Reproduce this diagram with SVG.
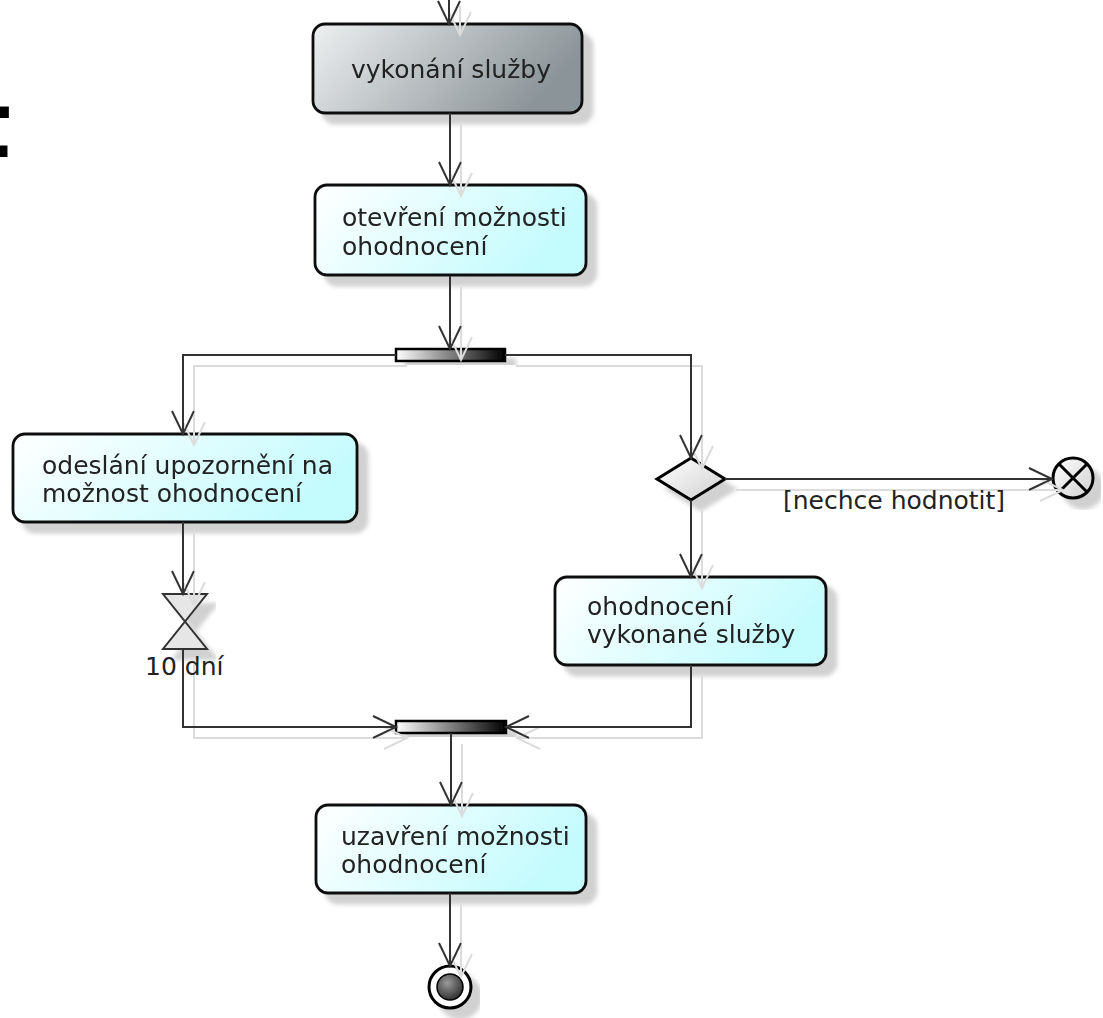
<svg xmlns="http://www.w3.org/2000/svg" width="1103" height="1018" viewBox="0 0 1103 1018">
<style>
.node rect.act{stroke:#111;stroke-width:2.8}
.txt{font-family:"DejaVu Sans","Liberation Sans",sans-serif;font-size:25px;fill:#222}
.conn path{fill:none;stroke:#333;stroke-width:2}
</style>
<defs>
<linearGradient id="gCyan" x1="0" y1="0" x2="1" y2="0.3">
<stop offset="0" stop-color="#ffffff"/><stop offset="1" stop-color="#c4fbfd"/>
</linearGradient>
<linearGradient id="gGray" x1="0" y1="0" x2="1" y2="0.3">
<stop offset="0" stop-color="#eef0f1"/><stop offset="1" stop-color="#8b9498"/>
</linearGradient>
<linearGradient id="gBar" x1="0" y1="0" x2="1" y2="0">
<stop offset="0" stop-color="#ffffff"/><stop offset="1" stop-color="#000000"/>
</linearGradient>
<linearGradient id="gLight" x1="0" y1="0" x2="1" y2="1">
<stop offset="0" stop-color="#ffffff"/><stop offset="1" stop-color="#d0d0d0"/>
</linearGradient>
<radialGradient id="gDark" cx="0.4" cy="0.35" r="0.7">
<stop offset="0" stop-color="#9a9a9a"/><stop offset="1" stop-color="#2a2a2a"/>
</radialGradient>
<filter id="shNode" x="-10%" y="-10%" width="130%" height="140%">
<feGaussianBlur in="SourceAlpha" stdDeviation="2"/>
<feOffset dx="10" dy="10" result="b"/>
<feFlood flood-color="#000" flood-opacity="0.18"/>
<feComposite in2="b" operator="in"/>
<feMerge><feMergeNode/><feMergeNode in="SourceGraphic"/></feMerge>
</filter>
<filter id="shLine" x="-5%" y="-5%" width="115%" height="115%">
<feOffset in="SourceAlpha" dx="11" dy="11" result="o"/>
<feFlood flood-color="#dcdcdc"/>
<feComposite in2="o" operator="in"/>
<feMerge><feMergeNode/><feMergeNode in="SourceGraphic"/></feMerge>
</filter>
<marker id="arr" markerUnits="userSpaceOnUse" markerWidth="40" markerHeight="40" viewBox="-30 -20 40 40" refX="0" refY="0" orient="auto" overflow="visible">
<path d="M-23,-11 L0,0 L-23,11" fill="none" stroke="#333" stroke-width="2"/>
</marker>
</defs>
<rect width="1103" height="1018" fill="#fff"/>

<text x="-33" y="157" font-family="DejaVu Sans, sans-serif" font-weight="bold" font-size="92" fill="#000">t</text>

<g id="n_vykonani" class="node" filter="url(#shNode)">
<rect class="act" x="313" y="24" width="269" height="89" rx="12" fill="url(#gGray)"/>
<text class="txt" x="451" y="78" text-anchor="middle">vykonání služby</text>
</g>
<g id="n_otevreni" class="node" filter="url(#shNode)">
<rect class="act" x="315" y="185" width="271" height="90" rx="12" fill="url(#gCyan)"/>
<text class="txt" x="342" y="226">otevření možnosti</text>
<text class="txt" x="342" y="255">ohodnocení</text>
</g>
<g id="n_fork" class="node" filter="url(#shNode)">
<rect x="396" y="349" width="109" height="12" fill="url(#gBar)" stroke="#000" stroke-width="2.5"/>
</g>
<g id="n_odeslani" class="node" filter="url(#shNode)">
<rect class="act" x="13" y="434" width="344" height="88" rx="12" fill="url(#gCyan)"/>
<text class="txt" x="42" y="474">odeslání upozornění na</text>
<text class="txt" x="42" y="502">možnost ohodnocení</text>
</g>
<g id="n_decision" class="node" filter="url(#shNode)">
<polygon points="657,479 691,458 725,479 691,500" fill="url(#gLight)" stroke="#000" stroke-width="3"/>
</g>
<g id="n_flowfinal" class="node" filter="url(#shNode)">
<circle cx="1073" cy="478" r="20" fill="url(#gLight)" stroke="#000" stroke-width="3"/>
<path d="M1059,464 L1087,492 M1087,464 L1059,492" stroke="#000" stroke-width="3"/>
</g>
<g id="n_ohodnoceni" class="node" filter="url(#shNode)">
<rect class="act" x="555" y="577" width="271" height="88" rx="12" fill="url(#gCyan)"/>
<text class="txt" x="587" y="615">ohodnocení</text>
<text class="txt" x="587" y="643">vykonané služby</text>
</g>
<g id="n_time" class="node" filter="url(#shNode)">
<path d="M163,594 H207 L163,649 H207 Z" fill="#e6e6e6" stroke="#333" stroke-width="2"/>
</g>
<g id="n_join" class="node" filter="url(#shNode)">
<rect x="396" y="721" width="110" height="12" fill="url(#gBar)" stroke="#000" stroke-width="2.5"/>
</g>
<g id="n_uzavreni" class="node" filter="url(#shNode)">
<rect class="act" x="316" y="805" width="270" height="88" rx="12" fill="url(#gCyan)"/>
<text class="txt" x="341" y="845">uzavření možnosti</text>
<text class="txt" x="341" y="873">ohodnocení</text>
</g>
<g id="n_final" class="node" filter="url(#shNode)">
<circle cx="450" cy="987" r="21" fill="#fff" stroke="#000" stroke-width="3"/>
<circle cx="450" cy="987" r="13" fill="url(#gDark)" stroke="#000" stroke-width="1.5"/>
</g>

<g id="connectors" class="conn" filter="url(#shLine)">
<path d="M449,-5 V24" marker-end="url(#arr)"/>
<path d="M450,113 V185" marker-end="url(#arr)"/>
<path d="M450,276 V349" marker-end="url(#arr)"/>
<path d="M396,355 H183 V434" marker-end="url(#arr)"/>
<path d="M505,355 H691 V458" marker-end="url(#arr)"/>
<path d="M725,479 H1052" marker-end="url(#arr)"/>
<path d="M691,500 V577" marker-end="url(#arr)"/>
<path d="M183,522 V594" marker-end="url(#arr)"/>
<path d="M183,649 V727 H396" marker-end="url(#arr)"/>
<path d="M691,665 V727 H506" marker-end="url(#arr)"/>
<path d="M451,733 V805" marker-end="url(#arr)"/>
<path d="M450,893 V966" marker-end="url(#arr)"/>
</g>

<text class="txt" x="145" y="675">10 dní</text>
<text class="txt" x="783" y="509">[nechce hodnotit]</text>
</svg>
